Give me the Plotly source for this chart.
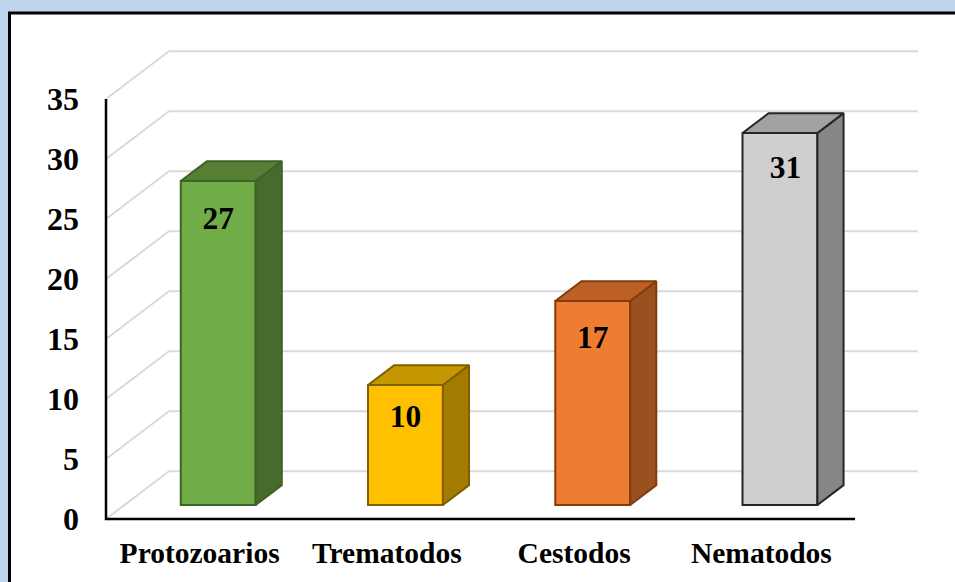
import plotly.graph_objects as go

# Chart data
categories = ["Protozoarios", "Trematodos", "Cestodos", "Nematodos"]
counts = [27, 10, 17, 31]
y_ticks = [0, 5, 10, 15, 20, 25, 30, 35]

# Face colours per bar
front_colors = ["#70AD47", "#FFC000", "#ED7D31", "#D0CECE"]
side_colors = ["#476B2D", "#A37B00", "#9A511F", "#878585"]
top_colors = ["#557F35", "#C49700", "#BC6026", "#A3A1A1"]
edge_colors = ["#3F6227", "#7F6000", "#843C0C", "#262626"]

# Label placement relative to each bar's top centre (value units / category units)
label_drop = [3.35, 2.85, 3.25, 3.1]
label_shift = [0.0, 0.0, 0.0, 0.03]

# Oblique projection: how far one unit of depth moves a point
WIDTH, HEIGHT = 955, 582
PX_PER_BAND = 187.25
PX_PER_UNIT = 12.0
ORIGIN_X, ORIGIN_Y = 106, 519
DEPTH_X = 63 / PX_PER_BAND
DEPTH_Y = 47.7 / PX_PER_UNIT
BAR_DEPTH = (0.295, 0.71)
BAR_WIDTH = 0.4

# Plot area in page pixels, slightly larger than the drawn box so edge lines are not clipped
AREA_LEFT, AREA_RIGHT, AREA_TOP, AREA_BOTTOM = 96, 926, 44, 525


def project(x, value, depth):
    return x + depth * DEPTH_X, value + depth * DEPTH_Y


n = len(categories)
band_centers = [i + 0.5 for i in range(n)]
d0, d1 = BAR_DEPTH
front_centers = [c + d0 * DEPTH_X for c in band_centers]
front_base = d0 * DEPTH_Y

fig = go.Figure()

# Front faces
fig.add_trace(go.Bar(
    x=front_centers, y=counts, base=front_base, width=BAR_WIDTH,
    marker=dict(color=front_colors, line=dict(color=edge_colors, width=2)),
    hoverinfo="skip", showlegend=False,
))

# Side and top faces
for c, v, side, top, edge in zip(band_centers, counts, side_colors, top_colors, edge_colors):
    left, right = c - BAR_WIDTH / 2, c + BAR_WIDTH / 2
    side_pts = [project(right, 0, d0), project(right, 0, d1), project(right, v, d1), project(right, v, d0)]
    top_pts = [project(left, v, d0), project(left, v, d1), project(right, v, d1), project(right, v, d0)]
    for pts, col in ((side_pts, side), (top_pts, top)):
        xs, ys = zip(*(pts + pts[:1]))
        fig.add_trace(go.Scatter(
            x=xs, y=ys, mode="lines", fill="toself", fillcolor=col,
            line=dict(color=edge, width=2), hoverinfo="skip", showlegend=False,
        ))

# Value labels
fig.add_trace(go.Scatter(
    x=[c + s for c, s in zip(front_centers, label_shift)],
    y=[v + front_base - dr for v, dr in zip(counts, label_drop)],
    mode="text", text=[str(v) for v in counts],
    textfont=dict(family="Liberation Serif", size=31.5, color="#000000", weight=700),
    textposition="middle center", cliponaxis=False, hoverinfo="skip", showlegend=False,
))

# Front axis lines
fig.add_trace(go.Scatter(
    x=[0, 0, n], y=[y_ticks[-1], 0, 0], mode="lines",
    line=dict(color="#000000", width=2.5), cliponaxis=False, hoverinfo="skip", showlegend=False,
))

# Floor and wall gridlines sit under every trace
shapes = [dict(
    type="rect", xref="paper", yref="paper", x0=9.5 / WIDTH, x1=1.02, y0=-0.02, y1=1 - 13 / HEIGHT,
    fillcolor="#FFFFFF", line=dict(color="#000000", width=3), layer="below",
)]
for t in y_ticks:
    pts = [project(0, t, 0), project(0, t, 1), project(n, t, 1)]
    for (x0, y0), (x1, y1) in zip(pts, pts[1:]):
        shapes.append(dict(
            type="line", xref="x", yref="y", x0=x0, y0=y0, x1=x1, y1=y1,
            line=dict(color="#D9D9D9", width=2), layer="below",
        ))

tick_font = dict(family="Liberation Serif", color="#000000", weight=700)
fig.update_layout(
    width=WIDTH, height=HEIGHT, autosize=False,
    margin=dict(l=0, r=0, t=0, b=0),
    paper_bgcolor="#BDD5ED", plot_bgcolor="rgba(0,0,0,0)",
    barmode="overlay", showlegend=False, shapes=shapes,
    xaxis=dict(
        domain=[AREA_LEFT / WIDTH, AREA_RIGHT / WIDTH], automargin=False,
        range=[(AREA_LEFT - ORIGIN_X) / PX_PER_BAND, (AREA_RIGHT - ORIGIN_X) / PX_PER_BAND],
        tickmode="array", tickvals=band_centers, ticktext=categories,
        tickfont=dict(size=29.5, **tick_font), ticks="", ticklabelstandoff=7,
        showgrid=False, zeroline=False, showline=False,
    ),
    yaxis=dict(
        domain=[1 - AREA_BOTTOM / HEIGHT, 1 - AREA_TOP / HEIGHT], automargin=False,
        range=[(ORIGIN_Y - AREA_BOTTOM) / PX_PER_UNIT, (ORIGIN_Y - AREA_TOP) / PX_PER_UNIT],
        tickmode="array", tickvals=y_ticks, ticktext=[str(t) for t in y_ticks],
        tickfont=dict(size=32, **tick_font), ticks="", ticklabelstandoff=16,
        showgrid=False, zeroline=False, showline=False,
    ),
)

fig.write_html("out.html")
